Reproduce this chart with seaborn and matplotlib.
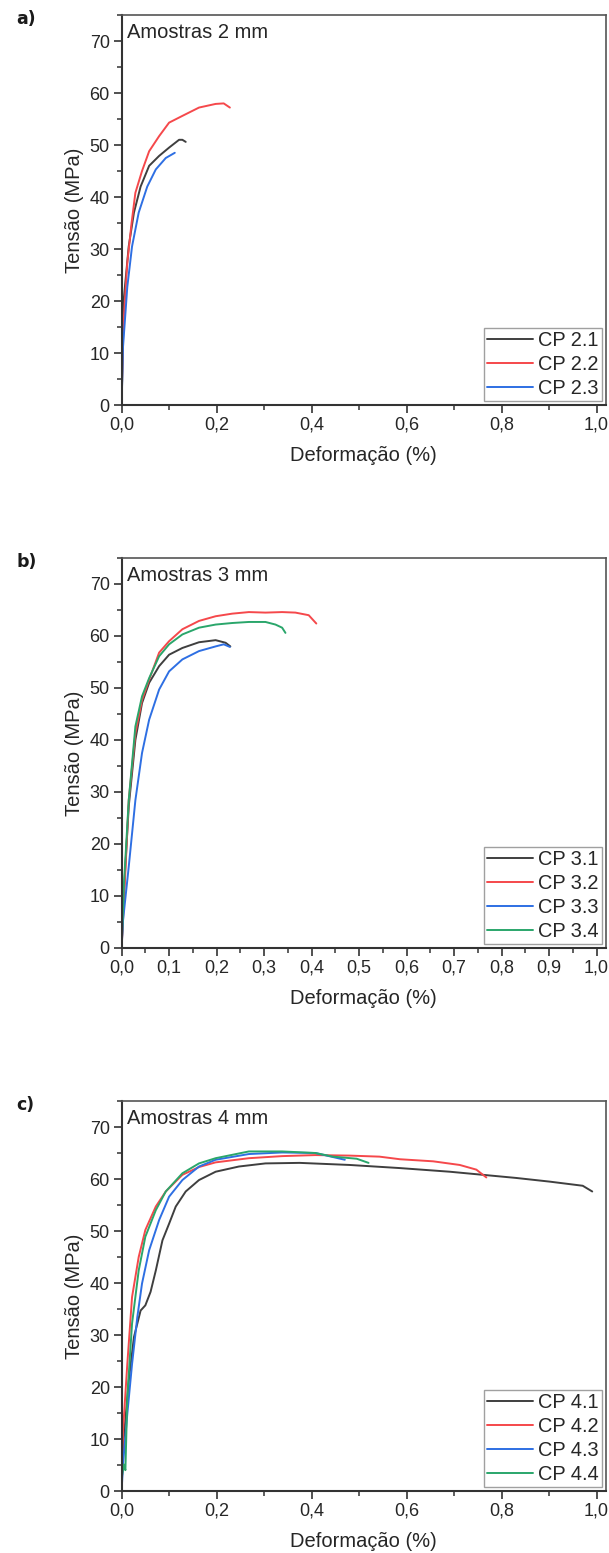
import numpy as np
import pandas as pd
import matplotlib
matplotlib.use("Agg")
import matplotlib.pyplot as plt
from matplotlib.ticker import MultipleLocator, FuncFormatter
import seaborn as sns

# ---------------- data (strain in %, stress in MPa) ----------------
# Panel a) Amostras 2 mm
a_labels = ["CP 2.1", "CP 2.2", "CP 2.3"]
a_x_21 = [0.0, 0.005, 0.015, 0.026, 0.040, 0.058, 0.079, 0.100, 0.121, 0.128, 0.135]
a_y_21 = [0.0, 20.8, 30.5, 37.0, 42.0, 46.0, 47.9, 49.5, 51.0, 51.0, 50.6]
a_x_22 = [0.0, 0.003, 0.012, 0.021, 0.029, 0.043, 0.058, 0.079, 0.100, 0.128, 0.163, 0.198, 0.215, 0.228]
a_y_22 = [0.0, 14.4, 27.3, 35.0, 40.8, 45.0, 48.8, 51.7, 54.3, 55.6, 57.2, 57.9, 58.0, 57.2]
a_x_23 = [0.0, 0.003, 0.012, 0.022, 0.036, 0.054, 0.072, 0.093, 0.112]
a_y_23 = [0.0, 11.2, 22.7, 30.5, 37.0, 42.0, 45.3, 47.5, 48.5]

# Panel b) Amostras 3 mm
b_labels = ["CP 3.1", "CP 3.2", "CP 3.3", "CP 3.4"]
b_x_31 = [0.0, 0.005, 0.015, 0.029, 0.043, 0.058, 0.079, 0.100, 0.128, 0.163, 0.198, 0.219, 0.229]
b_y_31 = [0.0, 11.0, 27.2, 40.0, 47.1, 51.0, 54.2, 56.4, 57.7, 58.8, 59.2, 58.7, 58.0]
b_x_32 = [0.0, 0.005, 0.015, 0.029, 0.043, 0.058, 0.079, 0.100, 0.128, 0.163, 0.198, 0.233, 0.268,
          0.303, 0.338, 0.366, 0.394, 0.410]
b_y_32 = [0.0, 9.1, 28.4, 41.3, 47.7, 51.6, 56.8, 59.0, 61.3, 62.9, 63.8, 64.3, 64.6,
          64.5, 64.6, 64.5, 64.0, 62.4]
b_x_33 = [0.0, 0.003, 0.015, 0.029, 0.043, 0.058, 0.079, 0.100, 0.128, 0.163, 0.198, 0.215, 0.228]
b_y_33 = [0.0, 5.3, 15.6, 28.4, 37.5, 43.9, 49.7, 53.2, 55.5, 57.1, 58.0, 58.4, 57.9]
b_x_34 = [0.0, 0.005, 0.015, 0.029, 0.043, 0.058, 0.079, 0.100, 0.128, 0.163, 0.198, 0.233, 0.268,
          0.303, 0.324, 0.338, 0.345]
b_y_34 = [0.0, 12.4, 28.4, 42.6, 48.4, 51.9, 56.1, 58.4, 60.3, 61.6, 62.2, 62.5, 62.7,
          62.7, 62.2, 61.6, 60.6]

# Panel c) Amostras 4 mm
c_labels = ["CP 4.1", "CP 4.2", "CP 4.3", "CP 4.4"]
c_x_41 = [0.0, 0.003, 0.015, 0.026, 0.040, 0.050, 0.061, 0.072, 0.086, 0.100, 0.114, 0.135, 0.163,
          0.198, 0.247, 0.303, 0.375, 0.480, 0.586, 0.691, 0.761, 0.831, 0.901, 0.971, 0.991]
c_y_41 = [0.0, 8.4, 21.2, 29.6, 34.7, 35.7, 38.3, 42.4, 48.2, 51.4, 54.7, 57.6, 59.8,
          61.4, 62.4, 63.0, 63.1, 62.7, 62.1, 61.4, 60.8, 60.2, 59.5, 58.7, 57.6]
c_x_42 = [0.0, 0.003, 0.012, 0.022, 0.036, 0.050, 0.072, 0.093, 0.128, 0.163, 0.198, 0.268, 0.338,
          0.408, 0.480, 0.543, 0.586, 0.656, 0.712, 0.747, 0.768]
c_y_42 = [0.0, 11.6, 24.4, 37.3, 45.0, 50.2, 54.7, 57.6, 60.8, 62.3, 63.2, 64.0, 64.4,
          64.6, 64.5, 64.3, 63.8, 63.4, 62.7, 61.8, 60.3]
c_x_43 = [0.0, 0.003, 0.012, 0.022, 0.033, 0.043, 0.058, 0.079, 0.100, 0.128, 0.163, 0.198, 0.268,
          0.338, 0.408, 0.470]
c_y_43 = [0.0, 5.1, 14.8, 24.4, 33.4, 39.9, 46.3, 52.1, 56.6, 59.8, 62.4, 63.7, 64.8,
          65.1, 65.0, 63.7]
c_x_44 = [0.0, 0.005, 0.008, 0.012, 0.022, 0.036, 0.050, 0.072, 0.093, 0.128, 0.163, 0.198, 0.268,
          0.338, 0.408, 0.445, 0.495, 0.520]
c_y_44 = [2.5, 5.1, 4.0, 18.0, 32.2, 42.4, 48.9, 54.0, 57.6, 61.1, 63.0, 64.0, 65.3,
          65.3, 65.0, 64.3, 63.9, 63.1]

panel_titles = ["Amostras 2 mm", "Amostras 3 mm", "Amostras 4 mm"]
panel_tags = ["a)", "b)", "c)"]
x_label = "Deformação (%)"
y_label = "Tensão (MPa)"

colors = ["#3f3f3f", "#f5484b", "#2e6fe3", "#2aa66b"]

# ---------------- style ----------------
sns.set_theme(style="ticks")
plt.rcParams["font.family"] = ["Liberation Sans", "DejaVu Sans"]
plt.rcParams["axes.edgecolor"] = "#333333"
plt.rcParams["text.color"] = "#262626"
plt.rcParams["axes.labelcolor"] = "#262626"
plt.rcParams["xtick.color"] = "#333333"
plt.rcParams["ytick.color"] = "#333333"
plt.rcParams["xtick.labelcolor"] = "#262626"
plt.rcParams["ytick.labelcolor"] = "#262626"


def make_df(xs, ys, labels):
    frames = []
    for x, y, lab in zip(xs, ys, labels):
        frames.append(pd.DataFrame({"strain": x, "stress": y, "sample": lab,
                                    "idx": np.arange(len(x))}))
    return pd.concat(frames, ignore_index=True)


panels = [
    make_df([a_x_21, a_x_22, a_x_23], [a_y_21, a_y_22, a_y_23], a_labels),
    make_df([b_x_31, b_x_32, b_x_33, b_x_34], [b_y_31, b_y_32, b_y_33, b_y_34], b_labels),
    make_df([c_x_41, c_x_42, c_x_43, c_x_44], [c_y_41, c_y_42, c_y_43, c_y_44], c_labels),
]
label_sets = [a_labels, b_labels, c_labels]

W, H = 609, 1553
fig = plt.figure(figsize=(W / 100, H / 100), dpi=100)

frame_tops = [15, 558, 1101]
ax_left, ax_w, ax_h = 121.6, 484.4, 390

comma = FuncFormatter(lambda v, p: f"{v:.1f}".replace(".", ","))

for i, df in enumerate(panels):
    top = frame_tops[i]
    ax = fig.add_axes([ax_left / W, 1 - (top + ax_h) / H, ax_w / W, ax_h / H])
    labs = label_sets[i]
    sns.lineplot(data=df, x="strain", y="stress", hue="sample", hue_order=labs,
                 palette=colors[:len(labs)], sort=False, estimator=None, units="sample",
                 linewidth=1.4, ax=ax, legend=True)
    ax.set_xlim(0, 1.02)
    ax.set_ylim(0, 75)
    ax.yaxis.set_major_locator(MultipleLocator(10))
    ax.yaxis.set_minor_locator(MultipleLocator(5))
    if i == 1:
        ax.xaxis.set_major_locator(MultipleLocator(0.1))
        ax.xaxis.set_minor_locator(MultipleLocator(0.05))
    else:
        ax.xaxis.set_major_locator(MultipleLocator(0.2))
        ax.xaxis.set_minor_locator(MultipleLocator(0.1))
    ax.xaxis.set_major_formatter(comma)
    ax.tick_params(which="major", direction="out", length=6, width=1.2, labelsize=13, pad=2.5,
                   top=False, right=False)
    ax.tick_params(which="minor", direction="out", length=3.5, width=1.1, top=False, right=False)
    for side in ["left", "bottom"]:
        ax.spines[side].set_linewidth(1.5)
        ax.spines[side].set_color("#333333")
    for side in ["top", "right"]:
        ax.spines[side].set_visible(True)
        ax.spines[side].set_linewidth(1.2)
        ax.spines[side].set_color("#555555")
    ax.set_xlabel(x_label, fontsize=14.5, labelpad=9)
    ax.set_ylabel(y_label, fontsize=14.5, labelpad=4)
    ax.text(0.012, 0.98, panel_titles[i], transform=ax.transAxes, fontsize=14.5,
            ha="left", va="top")
    handles, _ = ax.get_legend_handles_labels()
    leg = ax.legend(handles=handles, labels=labs, loc="lower right", fontsize=14.4,
                    frameon=True, fancybox=False, edgecolor="#a0a0a0", framealpha=1,
                    borderpad=0.15, labelspacing=0.25, handlelength=2.3, handletextpad=0.25,
                    borderaxespad=0.2)
    leg.get_frame().set_linewidth(1.0)
    for t in leg.get_texts():
        t.set_color("#262626")
    fig.text(16 / W, 1 - (top + 4) / H, panel_tags[i], fontsize=12.5, fontweight="bold",
             family="DejaVu Sans", ha="left", va="center", color="#1a1a1a")

fig.savefig("out.png", dpi=100)
